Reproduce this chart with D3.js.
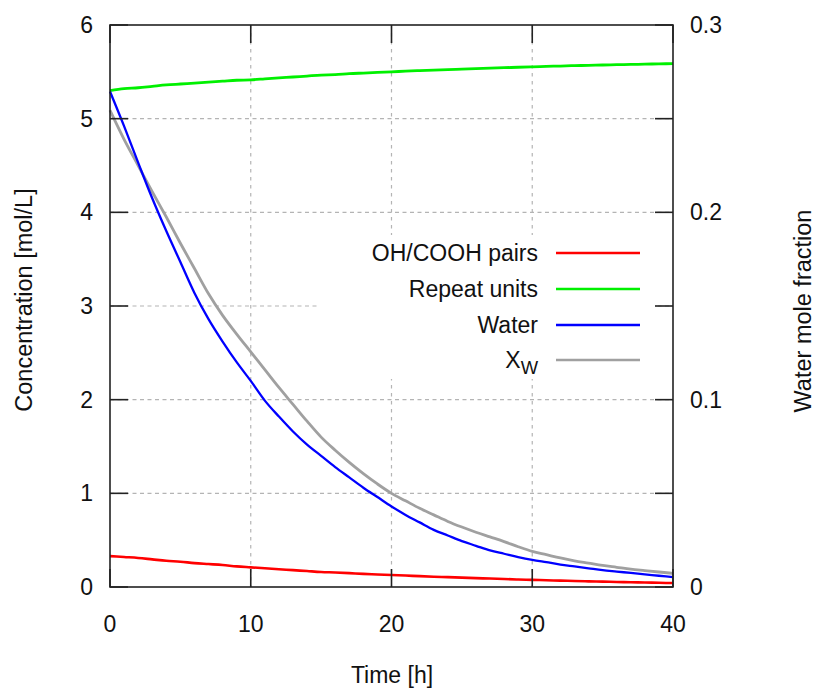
<!DOCTYPE html>
<html>
<head>
<meta charset="utf-8">
<script src="https://cdn.jsdelivr.net/npm/d3@7"></script>
<style>
  body { margin: 0; background: #fff; }
  svg { display: block; }
  text { font-family: "Liberation Sans", Arial, sans-serif; fill: #111; }
</style>
</head>
<body>
<svg id="chart" width="817" height="688"></svg>
<script>
// ---------------- data ----------------
const timeHours = d3.range(0, 41); // 0..40 h
const ohCoohPairs = [0.33,0.32,0.31,0.295,0.28,0.27,0.255,0.245,0.235,0.22,0.21,0.20,0.19,0.18,0.17,0.16,0.155,0.148,0.14,0.134,0.128,0.122,0.116,0.11,0.105,0.10,0.095,0.09,0.085,0.08,0.076,0.072,0.068,0.064,0.06,0.057,0.054,0.051,0.048,0.045,0.042];
const repeatUnits = [5.30,5.32,5.33,5.345,5.36,5.37,5.38,5.39,5.40,5.41,5.415,5.425,5.435,5.445,5.455,5.465,5.47,5.48,5.487,5.494,5.50,5.507,5.513,5.518,5.524,5.529,5.534,5.539,5.544,5.549,5.554,5.558,5.562,5.566,5.569,5.573,5.576,5.579,5.582,5.585,5.588];
const water = [5.29,4.92,4.53,4.15,3.80,3.47,3.14,2.86,2.62,2.40,2.20,1.99,1.82,1.66,1.52,1.40,1.28,1.17,1.06,0.96,0.86,0.77,0.69,0.61,0.55,0.49,0.44,0.39,0.355,0.32,0.29,0.265,0.24,0.22,0.20,0.18,0.165,0.15,0.135,0.12,0.105];
// water mole fraction (right axis, 0..0.3)
const xW = [0.2545,0.239,0.225,0.211,0.1975,0.1835,0.170,0.1565,0.145,0.135,0.1255,0.116,0.1065,0.0975,0.0885,0.080,0.073,0.0665,0.0605,0.055,0.050,0.046,0.042,0.0385,0.035,0.032,0.02925,0.02675,0.02425,0.0215,0.019,0.01725,0.0155,0.014,0.01275,0.0115,0.0105,0.0095,0.00875,0.008,0.0073];

const xTicks = [0, 10, 20, 30, 40];
const yTicks = [0, 1, 2, 3, 4, 5, 6];
const y2Ticks = [0, 0.1, 0.2, 0.3];
const y2TickLabels = ["0", "0.1", "0.2", "0.3"];

const seriesNames = ["OH/COOH pairs", "Repeat units", "Water", "X_W"];
const seriesColors = ["#ff0000", "#00f000", "#0000ff", "#a0a0a0"];

// ---------------- layout ----------------
const pL = 110, pR = 673, pT = 25, pB = 587;
const svg = d3.select("#chart");

const x = d3.scaleLinear().domain([0, 40]).range([pL, pR]);
const y = d3.scaleLinear().domain([0, 6]).range([pB, pT]);
const y2 = d3.scaleLinear().domain([0, 0.3]).range([pB, pT]);

const FONT = 23;
const TITLE_FONT = 23.5;

// grid
const grid = svg.append("g");
grid.selectAll("line.gx").data(xTicks.slice(1, -1)).join("line")
  .attr("x1", d => x(d)).attr("x2", d => x(d))
  .attr("y1", pT).attr("y2", pB)
  .attr("stroke", "#b4b4b4").attr("stroke-width", 1.2)
  .attr("stroke-dasharray", "3.5,4.5");
grid.selectAll("line.gy").data(yTicks.slice(1, -1)).join("line")
  .attr("x1", pL).attr("x2", pR)
  .attr("y1", d => y(d)).attr("y2", d => y(d))
  .attr("stroke", "#b4b4b4").attr("stroke-width", 1.2)
  .attr("stroke-dasharray", "4,3.5");

// key area (opaque)
svg.append("rect").attr("x", 320).attr("y", 235).attr("width", 338).attr("height", 144)
  .attr("fill", "#fff");

// curves
const lineLeft = d3.line().curve(d3.curveMonotoneX).x((d, i) => x(timeHours[i])).y(d => y(d));
const lineRight = d3.line().curve(d3.curveMonotoneX).x((d, i) => x(timeHours[i])).y(d => y2(d));
const curves = [
  {data: ohCoohPairs, gen: lineLeft, w: 2.6},
  {data: repeatUnits, gen: lineLeft, w: 2.8},
  {data: water, gen: lineLeft, w: 2.3},
  {data: xW, gen: lineRight, w: 2.8}
];
[3, 0, 1, 2].forEach(k => {
  svg.append("path").attr("d", curves[k].gen(curves[k].data))
    .attr("fill", "none").attr("stroke", seriesColors[k])
    .attr("stroke-width", curves[k].w)
    .attr("stroke-linejoin", "round");
});

// frame
svg.append("rect").attr("x", pL).attr("y", pT)
  .attr("width", pR - pL).attr("height", pB - pT)
  .attr("fill", "none").attr("stroke", "#222").attr("stroke-width", 1.6);

// ticks (inward, mirrored)
const TL = 18;
const tk = svg.append("g").attr("stroke", "#222").attr("stroke-width", 1.6);
xTicks.forEach(t => {
  tk.append("line").attr("x1", x(t)).attr("x2", x(t)).attr("y1", pB).attr("y2", pB - TL);
  tk.append("line").attr("x1", x(t)).attr("x2", x(t)).attr("y1", pT).attr("y2", pT + TL);
});
yTicks.forEach(t => {
  tk.append("line").attr("x1", pL).attr("x2", pL + TL).attr("y1", y(t)).attr("y2", y(t));
  tk.append("line").attr("x1", pR).attr("x2", pR - TL).attr("y1", y(t)).attr("y2", y(t));
});

// tick labels
svg.append("g").selectAll("text").data(xTicks).join("text")
  .attr("x", d => x(d)).attr("y", 632).attr("text-anchor", "middle")
  .attr("font-size", FONT).text(d => d);
svg.append("g").selectAll("text").data(yTicks).join("text")
  .attr("x", 93).attr("y", d => y(d)).attr("dy", "0.35em").attr("text-anchor", "end")
  .attr("font-size", FONT).text(d => d);
svg.append("g").selectAll("text").data(y2Ticks).join("text")
  .attr("x", 690).attr("y", d => y2(d)).attr("dy", "0.35em").attr("text-anchor", "start")
  .attr("font-size", FONT).text((d, i) => y2TickLabels[i]);

// axis titles
svg.append("text").attr("x", 392).attr("y", 683).attr("text-anchor", "middle")
  .attr("font-size", FONT).text("Time [h]");
svg.append("text").attr("transform", "translate(32,300) rotate(-90)")
  .attr("text-anchor", "middle").attr("font-size", TITLE_FONT).text("Concentration [mol/L]");
svg.append("text").attr("transform", "translate(811,311) rotate(-90)")
  .attr("text-anchor", "middle").attr("font-size", TITLE_FONT).text("Water mole fraction");

// legend
const keyRows = [253, 289, 325, 360];
seriesNames.forEach((name, i) => {
  const t = svg.append("text").attr("x", 538).attr("y", keyRows[i]).attr("dy", "0.35em")
    .attr("text-anchor", "end").attr("font-size", FONT);
  if (name === "X_W") {
    t.append("tspan").text("X");
    t.append("tspan").attr("font-size", FONT * 0.8).attr("dy", "0.35em").text("W");
  } else {
    t.text(name);
  }
  svg.append("line").attr("x1", 556).attr("x2", 640)
    .attr("y1", keyRows[i]).attr("y2", keyRows[i])
    .attr("stroke", seriesColors[i]).attr("stroke-width", 2.3);
});
</script>
</body>
</html>
